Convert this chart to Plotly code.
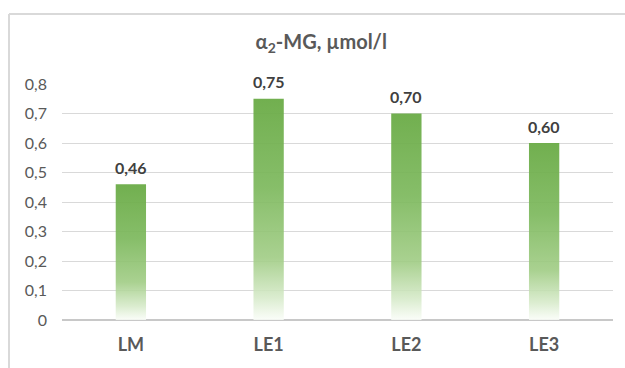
import plotly.graph_objects as go

# Alpha-2 macroglobulin by group
categories = ["LM", "LE1", "LE2", "LE3"]
values = [0.46, 0.75, 0.70, 0.60]
y_ticks = [0, 0.1, 0.2, 0.3, 0.4, 0.5, 0.6, 0.7, 0.8]

FONT = "Lato"
BAR_WIDTH = 0.22
GRADIENT = [
    [0.00, "rgba(250,253,248,0.85)"],
    [0.10, "rgba(214,234,201,0.88)"],
    [0.28, "rgba(160,204,132,0.90)"],
    [0.60, "rgba(124,184,92,0.92)"],
    [1.00, "rgba(106,171,70,0.95)"],
]

fig = go.Figure()

# Each bar is a filled rectangle so it can carry a vertical gradient
for i, v in enumerate(values):
    x0, x1 = i - BAR_WIDTH / 2, i + BAR_WIDTH / 2
    fig.add_trace(go.Scatter(
        x=[x0, x1, x1, x0, x0],
        y=[0, 0, v, v, 0],
        mode="lines",
        line=dict(width=0),
        fill="toself",
        fillgradient=dict(type="vertical", colorscale=GRADIENT, start=0, stop=v),
        hoverinfo="skip",
        showlegend=False,
    ))

# Value labels above the bars (decimal comma)
annotations = [
    dict(
        x=i, y=v, xref="x", yref="y",
        text=f"<b>{v:.2f}</b>".replace(".", ","),
        showarrow=False, yanchor="middle", yshift=17,
        font=dict(family=FONT, size=16, color="#404040"),
    )
    for i, v in enumerate(values)
]

fig.update_layout(
    width=625,
    height=368,
    margin=dict(l=62, r=12, t=84, b=48),
    paper_bgcolor="white",
    plot_bgcolor="white",
    separators=", ",
    font=dict(family=FONT, color="#595959"),
    title=dict(
        text="<b>α<sub>2</sub>-MG, µmol/l</b>",
        x=0.514, xref="container", xanchor="center",
        y=1 - 42 / 368, yref="container", yanchor="middle",
        font=dict(family=FONT, size=20, color="#595959"),
    ),
    xaxis=dict(
        range=[-0.5, len(categories) - 0.5],
        tickvals=list(range(len(categories))),
        ticktext=[f"<b>{c}</b>" for c in categories],
        showgrid=False,
        zeroline=False,
        showline=False,
        ticks="",
        tickfont=dict(family=FONT, size=18, color="#595959"),
        ticklabelstandoff=12,
    ),
    yaxis=dict(
        range=[0, 0.8],
        tickvals=y_ticks,
        showgrid=True,
        gridcolor="#d9d9d9",
        gridwidth=1,
        zeroline=True,
        zerolinecolor="#c8c8c8",
        zerolinewidth=1.5,
        showline=False,
        ticks="",
        tickfont=dict(family=FONT, size=16, color="#595959"),
        ticklabelstandoff=14,
    ),
    annotations=annotations,
    shapes=[
        # Chart frame: top and left edges
        dict(type="line", xref="paper", yref="paper",
             x0=(9 - 62) / 551, x1=(625 - 62) / 551,
             y0=(320 - 14) / 236, y1=(320 - 14) / 236,
             line=dict(color="#d9d9d9", width=2)),
        dict(type="line", xref="paper", yref="paper",
             x0=(9 - 62) / 551, x1=(9 - 62) / 551,
             y0=(320 - 14) / 236, y1=(320 - 370) / 236,
             line=dict(color="#d9d9d9", width=2)),
    ],
)

fig.write_html("out.html")
